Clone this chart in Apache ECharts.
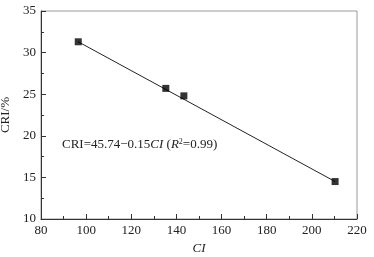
<!DOCTYPE html>
<html>
<head>
<meta charset="utf-8">
<script src="https://cdn.jsdelivr.net/npm/echarts@6/dist/echarts.min.js"></script>
<style>
  html, body { margin: 0; padding: 0; background: #fff; }
  #chart { width: 374px; height: 257px; }
</style>
</head>
<body>
<div id="chart"></div>
<script>
  // measured points (CI, CRI %)
  var ciValues = [96.5, 135.3, 143.3, 210.3]
  var criValues = [31.3, 25.7, 24.8, 14.5]
  // fitted line ends
  var fitLine = [[96.5, 31.3], [210.3, 14.5]]

  var font = 'Liberation Serif, Times New Roman, serif'
  var myChart = echarts.init(document.getElementById('chart'))
  myChart.setOption({
    animation: false,
    grid: {
      left: 41, right: 17, top: 11, bottom: 38,
      outerBoundsMode: 'none',
      show: true, borderColor: '#999', borderWidth: 1
    },
    xAxis: {
      type: 'value', min: 80, max: 220, interval: 20,
      name: 'CI', nameLocation: 'middle', nameGap: 20,
      nameTextStyle: { fontFamily: font, fontSize: 13, fontStyle: 'italic', color: '#222' },
      axisLine: { lineStyle: { color: '#333' } },
      axisTick: { inside: true, length: 5, lineStyle: { color: '#333' } },
      minorTick: { show: true, splitNumber: 2, length: 3, lineStyle: { color: '#333' } },
      axisLabel: { fontFamily: font, fontSize: 13, color: '#222', margin: 5 },
      splitLine: { show: false }
    },
    yAxis: {
      type: 'value', min: 10, max: 35, interval: 5,
      name: 'CRI/%', nameLocation: 'middle', nameGap: 26,
      nameTextStyle: { fontFamily: font, fontSize: 13, color: '#222' },
      axisLine: { lineStyle: { color: '#333' } },
      axisTick: { inside: true, length: 5, lineStyle: { color: '#333' } },
      minorTick: { show: true, splitNumber: 2, length: 3, lineStyle: { color: '#333' } },
      axisLabel: { fontFamily: font, fontSize: 13, color: '#222', margin: 5 },
      splitLine: { show: false }
    },
    graphic: [{
      type: 'text', left: 62, top: 138,
      style: {
        text: '{n|CRI=45.74\u22120.15}{i|CI}{n| (}{i|R}{s|2}{n|=0.99)}',
        rich: {
          n: { fontFamily: font, fontSize: 13, fill: '#222' },
          i: { fontFamily: font, fontSize: 13, fontStyle: 'italic', fill: '#222' },
          s: { fontFamily: font, fontSize: 8, fill: '#222', verticalAlign: 'top', padding: [0, 0, 6, 0] }
        }
      }
    }],
    series: [
      {
        type: 'line',
        data: fitLine,
        symbol: 'none',
        lineStyle: { color: '#222', width: 1 },
        z: 1
      },
      {
        type: 'scatter',
        data: ciValues.map(function (c, i) { return [c, criValues[i]] }),
        symbol: 'rect',
        symbolSize: 7,
        itemStyle: { color: '#000' },
        z: 2
      }
    ]
  })
</script>
</body>
</html>
